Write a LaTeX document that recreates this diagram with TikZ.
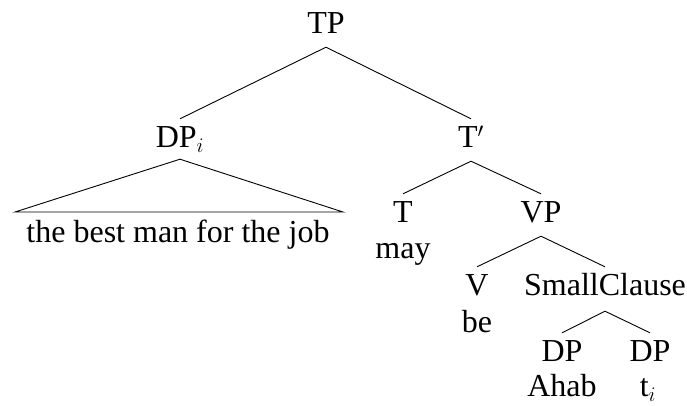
\documentclass[tikz,border=0pt]{standalone}
\usepackage{fontspec}
\setmainfont{Liberation Serif}
\begin{document}
\begin{tikzpicture}[x=1pt,y=-1pt,
  lab/.style={anchor=base,inner sep=0pt,text height=22pt,text depth=8pt,font=\fontsize{32}{38}\selectfont},
  edge/.style={line width=0.9pt}]
\useasboundingbox (0,0) rectangle (687,405);
\node[lab] (TP) at (326,33) {TP};
\node[lab] (DP) at (180,147) {DP$_i$};
\node[lab] (Tbar) at (471,147) {T$'$};
\node[lab] (phrase) at (178,242) {the best man for the job};
\node[lab] (T) at (403,222) {T};
\node[lab] (may) at (403,258) {may};
\node[lab] (VP) at (541,222) {VP};
\node[lab] (V) at (477,295) {V};
\node[lab] (be) at (477,332) {be};
\node[lab] (SC) at (605,295) {SmallClause};
\node[lab] (DP1) at (562,361) {DP};
\node[lab] (Ahab) at (562,396) {Ahab};
\node[lab] (DP2) at (650,361) {DP};
\node[lab] (ti) at (648,396) {t$_i$};
\coordinate (TPa) at ([yshift=-6pt]TP.south);
\draw[edge] (TPa) -- ([yshift=6pt]DP.north);
\draw[edge] (TPa) -- ([yshift=6pt]Tbar.north);
\coordinate (DPa) at ([yshift=-4pt]DP.south);
\coordinate (triL) at (15,212);
\coordinate (triR) at (343,212);
\draw[edge] (triL) -- (DPa) -- (triR) -- cycle;
\coordinate (Tba) at ([yshift=-6pt]Tbar.south);
\draw[edge] (Tba) -- ([yshift=6pt]T.north);
\draw[edge] (Tba) -- ([yshift=6pt]VP.north);
\coordinate (VPa) at ([yshift=-6pt]VP.south);
\draw[edge] (VPa) -- ([yshift=6pt]V.north);
\draw[edge] (VPa) -- ([yshift=6pt]SC.north);
\coordinate (SCa) at ([yshift=-8pt]SC.south);
\draw[edge] (SCa) -- ([yshift=6pt]DP1.north);
\draw[edge] (SCa) -- ([yshift=6pt]DP2.north);
\end{tikzpicture}
\end{document}
